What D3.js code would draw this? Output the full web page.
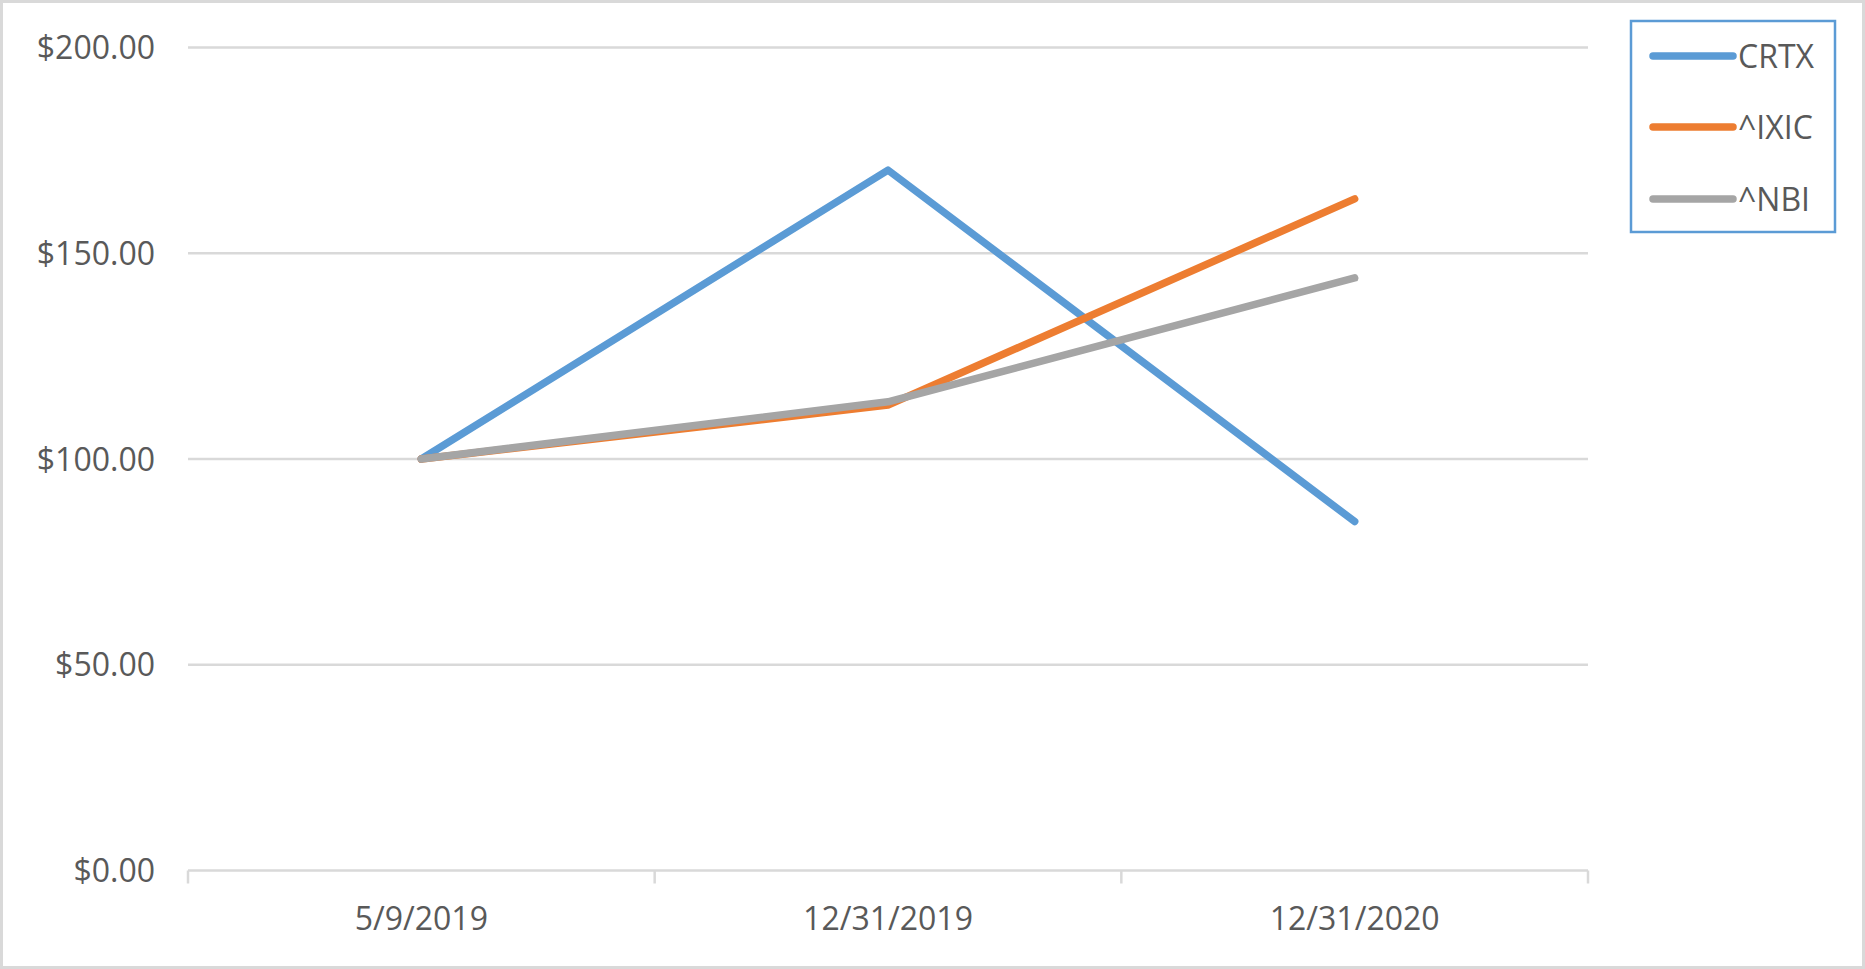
<!DOCTYPE html>
<html>
<head>
<meta charset="utf-8">
<script src="https://cdn.jsdelivr.net/npm/d3@7"></script>
<style>
  html, body { margin: 0; padding: 0; background: #fff; }
  svg { display: block; }
  text { font-family: "Open Sans", "Noto Sans", sans-serif; fill: #595959; }
</style>
</head>
<body>
<svg id="chart" width="1865" height="969"></svg>
<script>
const categories = ["5/9/2019", "12/31/2019", "12/31/2020"];
const seriesNames = ["CRTX", "^IXIC", "^NBI"];
const crtxValues = [100, 170.2, 84.8];
const ixicValues = [100, 113.1, 163.2];
const nbiValues = [100, 113.9, 144.0];
const yTicks = [0, 50, 100, 150, 200];
const seriesColors = ["#5B9BD5", "#ED7D31", "#A5A5A5"];

const series = [
  { name: seriesNames[0], values: crtxValues, color: seriesColors[0] },
  { name: seriesNames[1], values: ixicValues, color: seriesColors[1] },
  { name: seriesNames[2], values: nbiValues, color: seriesColors[2] }
];

const svg = d3.select("#chart");
const W = 1865, H = 969;
const plot = { left: 188, right: 1588, top: 47.5, bottom: 870.5 };
const FS = 32;

// outer border
svg.append("rect").attr("x", 1.5).attr("y", 1.5).attr("width", W - 3).attr("height", H - 3)
  .attr("fill", "#fff").attr("stroke", "#D9D9D9").attr("stroke-width", 3);

const x = d3.scaleBand().domain(categories).range([plot.left, plot.right]).paddingInner(0).paddingOuter(0);
const y = d3.scaleLinear().domain([0, 200]).range([plot.bottom, plot.top]);

// gridlines
svg.append("g").selectAll("line").data(yTicks.filter(d => d > 0)).join("line")
  .attr("x1", plot.left).attr("x2", plot.right)
  .attr("y1", d => y(d)).attr("y2", d => y(d))
  .attr("stroke", "#D9D9D9").attr("stroke-width", 2.5);

// y axis labels
const fmt = d => "$" + d3.format(".2f")(d);
svg.append("g").selectAll("text").data(yTicks).join("text")
  .attr("x", 155).attr("y", d => y(d)).attr("dy", "0.36em")
  .attr("text-anchor", "end").attr("font-size", FS)
  .text(fmt);

// x axis
svg.append("line").attr("x1", plot.left).attr("x2", plot.right)
  .attr("y1", plot.bottom).attr("y2", plot.bottom)
  .attr("stroke", "#D9D9D9").attr("stroke-width", 2.5);
const tickPositions = categories.map(c => x(c)).concat([plot.right]);
svg.append("g").selectAll("line").data(tickPositions).join("line")
  .attr("x1", d => d).attr("x2", d => d)
  .attr("y1", plot.bottom).attr("y2", plot.bottom + 13)
  .attr("stroke", "#D9D9D9").attr("stroke-width", 2.5);
svg.append("g").selectAll("text").data(categories).join("text")
  .attr("x", d => x(d) + x.bandwidth() / 2).attr("y", 930)
  .attr("text-anchor", "middle").attr("font-size", FS)
  .text(d => d);

// lines
const line = d3.line()
  .x((d, i) => x(categories[i]) + x.bandwidth() / 2)
  .y(d => y(d));
svg.append("g").selectAll("path").data(series).join("path")
  .attr("d", d => line(d.values))
  .attr("fill", "none").attr("stroke", d => d.color)
  .attr("stroke-width", 7.5).attr("stroke-linecap", "round").attr("stroke-linejoin", "round");

// legend
const lg = svg.append("g");
lg.append("rect").attr("x", 1631).attr("y", 21).attr("width", 204).attr("height", 211)
  .attr("fill", "#fff").attr("stroke", "#5B9BD5").attr("stroke-width", 2.5);
const ly = [56, 127, 199];
series.forEach((s, i) => {
  lg.append("line").attr("x1", 1653).attr("x2", 1733).attr("y1", ly[i]).attr("y2", ly[i])
    .attr("stroke", s.color).attr("stroke-width", 7.5).attr("stroke-linecap", "round");
  lg.append("text").attr("x", 1738).attr("y", ly[i]).attr("dy", "0.36em")
    .attr("font-size", FS).text(s.name);
});
</script>
</body>
</html>
